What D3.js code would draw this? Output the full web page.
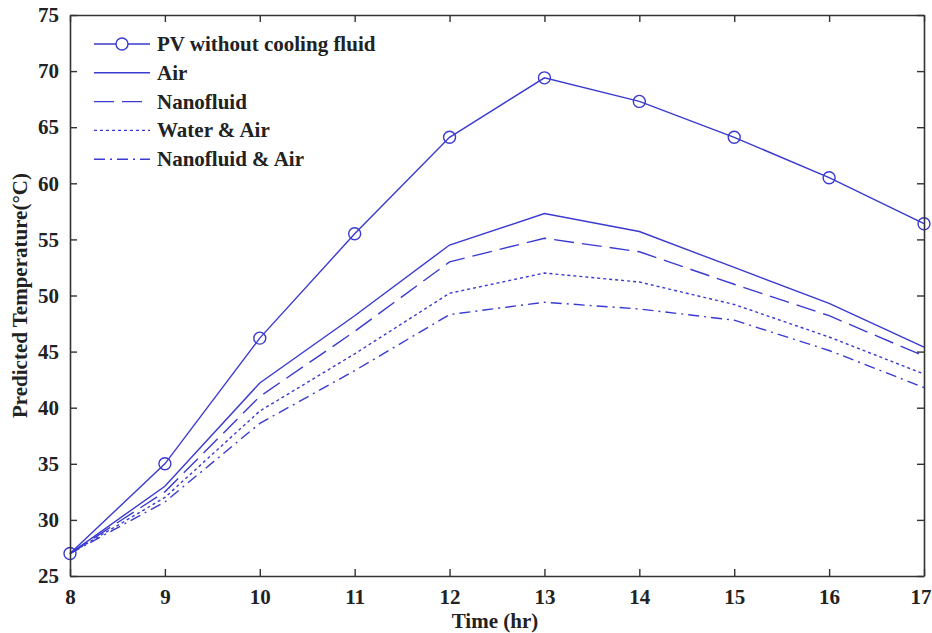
<!DOCTYPE html>
<html>
<head>
<meta charset="utf-8">
<script src="https://cdn.jsdelivr.net/npm/d3@7"></script>
<style>
	body { margin: 0; background: #fff; }
	text { font-family: "Liberation Serif", "Times New Roman", serif; font-weight: bold; fill: #222; }
</style>
</head>
<body>
<div id="chart"></div>
<script>
// data
const hours = [8, 9, 10, 11, 12, 13, 14, 15, 16, 17];
const pvNoCooling = [27, 35, 46.2, 55.5, 64.1, 69.4, 67.3, 64.1, 60.5, 56.4];
const air = [27, 33, 42.2, 48.2, 54.5, 57.3, 55.7, 52.5, 49.3, 45.4];
const nanofluid = [27, 32.5, 41.0, 46.8, 53.0, 55.1, 53.9, 51.0, 48.2, 44.6];
const waterAir = [27, 32.0, 39.7, 44.8, 50.2, 52.0, 51.2, 49.2, 46.3, 43.0];
const nanofluidAir = [27, 31.6, 38.6, 43.3, 48.3, 49.4, 48.8, 47.8, 45.1, 41.8];
const xTicks = [8, 9, 10, 11, 12, 13, 14, 15, 16, 17];
const yTicks = [25, 30, 35, 40, 45, 50, 55, 60, 65, 70, 75];

const series = [
	{ name: "PV without cooling fluid", values: pvNoCooling, dash: null, marker: true },
	{ name: "Air", values: air, dash: null, marker: false },
	{ name: "Nanofluid", values: nanofluid, dash: "20,8", marker: false },
	{ name: "Water & Air", values: waterAir, dash: "3,3", marker: false },
	{ name: "Nanofluid & Air", values: nanofluidAir, dash: "11,5,2,5", marker: false }
];

// set up svg
const width = 932;
const height = 633;
const margin = { top: 15, right: 8, bottom: 57, left: 70 };
const lineColor = "#3a3ad0";
const axisColor = "#333";
const fontSize = "21px";

const svg = d3.select("#chart")
	.append("svg")
	.attr("width", width)
	.attr("height", height);

// scales
const xScale = d3.scaleLinear()
	.domain([8, 17])
	.range([margin.left, width - margin.right]);
const yScale = d3.scaleLinear()
	.domain([25, 75])
	.range([height - margin.bottom, margin.top]);

// lines
const line = d3.line()
	.x((d, i) => xScale(hours[i]))
	.y((d) => yScale(d));

svg.selectAll("path.series")
	.data(series)
	.enter()
	.append("path")
	.attr("class", "series")
	.attr("d", (d) => line(d.values))
	.attr("fill", "none")
	.attr("stroke", lineColor)
	.attr("stroke-width", 1.4)
	.attr("stroke-dasharray", (d) => d.dash);

// markers
svg.selectAll("circle.marker")
	.data(pvNoCooling)
	.enter()
	.append("circle")
	.attr("class", "marker")
	.attr("cx", (d, i) => xScale(hours[i]))
	.attr("cy", (d) => yScale(d))
	.attr("r", 6)
	.attr("fill", "none")
	.attr("stroke", lineColor)
	.attr("stroke-width", 1.4);

// axes (ticks point inward, box on all four sides)
const styleAxis = (g) => {
	g.selectAll(".domain").attr("stroke", axisColor).attr("stroke-width", 1.6);
	g.selectAll(".tick line").attr("stroke", axisColor).attr("stroke-width", 1.4);
	g.selectAll(".tick text")
		.style("font-size", fontSize)
		.style("font-family", "Liberation Serif, Times New Roman, serif")
		.style("font-weight", "bold")
		.attr("fill", "#222");
};

const xAxisG = svg.append("g")
	.attr("transform", `translate(0,${height - margin.bottom})`)
	.call(d3.axisBottom(xScale).tickValues(xTicks).tickSize(-7).tickPadding(13).tickSizeOuter(0))
	.call(styleAxis);
// last label sits at the page edge: pull it in so it is not clipped
xAxisG.selectAll(".tick text")
	.filter((d) => d === 17)
	.attr("text-anchor", "end")
	.attr("x", width - xScale(17) - 1);

svg.append("g")
	.attr("transform", `translate(0,${margin.top})`)
	.call(d3.axisTop(xScale).tickValues(xTicks).tickSize(-7).tickFormat("").tickSizeOuter(0))
	.call(styleAxis);
svg.append("g")
	.attr("transform", `translate(${margin.left},0)`)
	.call(d3.axisLeft(yScale).tickValues(yTicks).tickSize(-7).tickPadding(11).tickSizeOuter(0))
	.call(styleAxis);
svg.append("g")
	.attr("transform", `translate(${width - margin.right},0)`)
	.call(d3.axisRight(yScale).tickValues(yTicks).tickSize(-7).tickFormat("").tickSizeOuter(0))
	.call(styleAxis);

// axis titles
svg.append("text")
	.attr("x", 495)
	.attr("y", 628)
	.attr("text-anchor", "middle")
	.style("font-size", fontSize)
	.text("Time (hr)");
svg.append("text")
	.attr("transform", `translate(27,${(margin.top + height - margin.bottom) / 2}) rotate(-90)`)
	.attr("text-anchor", "middle")
	.style("font-size", fontSize)
	.text("Predicted Temperature(°C)");

// legend
const legend = svg.selectAll("g.legend")
	.data(series)
	.enter()
	.append("g")
	.attr("class", "legend")
	.attr("transform", (d, i) => `translate(94,${44 + i * 28.8})`);

legend.append("line")
	.attr("x1", 0)
	.attr("x2", 56)
	.attr("stroke", lineColor)
	.attr("stroke-width", 1.4)
	.attr("stroke-dasharray", (d) => d.dash);
legend.filter((d) => d.marker)
	.append("circle")
	.attr("cx", 28)
	.attr("r", 6)
	.attr("fill", "#fff")
	.attr("stroke", lineColor)
	.attr("stroke-width", 1.4);
legend.append("text")
	.attr("x", 63)
	.attr("y", 7)
	.style("font-size", fontSize)
	.text((d) => d.name);
</script>
</body>
</html>
